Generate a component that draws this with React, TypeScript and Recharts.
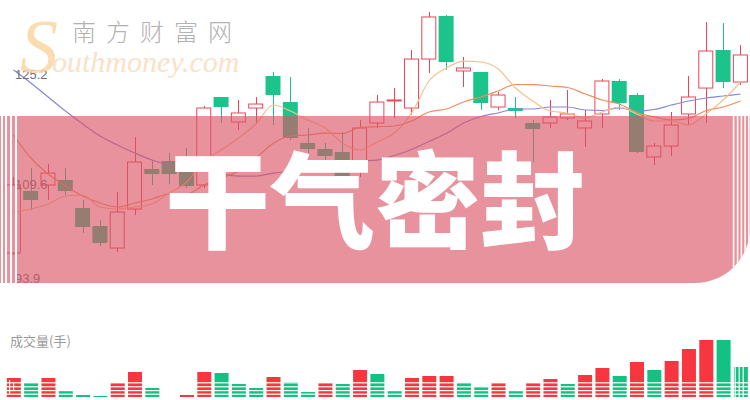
import React from 'react';
import { ComposedChart, BarChart, Bar, Line, XAxis, YAxis, Cell } from 'recharts';

const days = ['1','2','3','4','5','6','7','8','9','10','11','12','13','14','15','16','17','18','19','20','21','22','23','24','25','26','27','28','29','30','31','32','33','34','35','36','37','38','39','40','41','42','43'];

const opens = [99.81,108.53,109.38,110.08,106.14,103.61,100.51,106.0,111.63,112.75,111.91,109.38,121.76,118.24,120.21,124.71,121.05,115.29,114.44,114.02,111.2,118.1,121.2,120.21,127.1,133.16,125.42,125.28,120.35,120.21,118.1,118.1,118.8,117.4,119.37,124.01,122.04,113.32,114.86,119.37,123.02,128.37,123.87];
const closes = [109.38,107.27,111.06,108.53,103.47,101.21,105.58,112.61,110.92,110.92,109.23,120.21,120.35,119.51,120.77,122.04,115.99,114.44,113.46,110.5,117.4,121.05,121.34,127.1,133.02,126.68,125.84,120.91,122.04,119.79,117.26,118.94,119.37,118.38,124.01,120.91,114.02,114.86,117.82,121.76,128.23,123.87,127.67];
const highs = [110.5,111.77,112.33,111.77,107.27,104.45,108.39,116.13,112.89,113.88,114.58,120.49,121.76,121.34,121.76,125.28,124.57,117.4,115.29,116.83,118.52,122.04,123.02,128.37,133.72,133.3,127.39,125.28,122.46,121.76,118.52,121.34,122.74,119.93,124.29,124.29,122.32,115.29,119.65,124.71,132.31,132.17,129.08];
const lows = [99.53,105.86,107.27,107.97,102.62,100.79,99.95,105.15,109.38,109.52,108.95,108.95,118.1,117.11,118.1,117.82,115.71,113.6,112.47,110.36,110.5,117.4,118.8,119.23,125.14,125.56,123.17,119.93,119.93,118.8,112.61,117.4,118.52,114.72,117.4,119.93,113.88,112.19,113.46,117.82,118.1,123.02,123.45];

const ma5 = [105.58,106.0,106.7,107.83,107.97,106.28,106.0,106.28,106.7,108.25,109.8,112.75,114.3,115.99,117.96,120.63,119.79,118.52,117.4,115.29,114.3,115.43,116.69,119.51,124.01,125.84,126.82,126.68,125.7,123.03,121.2,119.79,119.51,118.8,119.65,120.35,119.37,118.38,118.38,117.82,119.37,121.34,123.87];
const ma10 = [116.41,113.18,110.92,109.24,107.83,106.84,106.28,106.84,107.41,108.11,108.11,109.38,110.36,111.35,113.18,115.21,116.27,116.41,116.69,116.62,117.47,117.58,117.68,118.38,119.65,120.07,121.06,121.76,122.61,123.52,123.5,123.31,123.1,122.22,121.34,120.77,119.56,118.94,118.52,118.73,119.83,120.35,121.2];
const ma20 = [125.56,123.73,121.76,119.79,117.96,116.27,115.01,113.88,112.89,112.19,111.77,111.35,110.92,110.64,110.64,111.06,111.27,111.63,112.05,112.33,112.75,112.89,113.53,114.37,115.5,116.62,118.1,119.02,119.51,120.07,120.07,120.35,120.35,119.93,119.86,120.21,119.79,120.0,120.63,121.2,121.62,121.9,122.18];

const volumes = [19,14,19,6,2,1,14,25,9,0,2,25,24,13,9,20,15,5,14,13,27,23,6,19,21,21,14,10,14,6,14,18,13,22,29,21,35,27,36,48,57,57,30];
const volumeUp = [true,false,true,false,false,false,true,true,false,false,true,true,false,false,false,true,false,false,true,false,true,false,false,true,true,true,false,false,true,false,true,true,false,true,true,false,true,false,true,true,true,false,false];

const priceTicks = [93.9, 109.6, 125.2];
const priceDomain = [93.9, 134];
const volumeDomain = [0, 60];

const RED = '#EC4656';
const GREEN = '#1CC48B';
const VRED = '#F8363F';
const VGREEN = '#12C283';

const data = days.map((d, i) => ({
  day: d,
  open: opens[i],
  close: closes[i],
  high: highs[i],
  low: lows[i],
  range: [lows[i], highs[i]],
  ma5: ma5[i],
  ma10: ma10[i],
  ma20: ma20[i],
  vol: volumes[i],
  volUp: volumeUp[i],
}));

const Candle = (props: any) => {
  const { x, y, width, height, payload } = props;
  if (x == null || y == null) return null;
  const top0 = Math.min(y, y + height);
  const h = Math.abs(height);
  const { open, close, high, low } = payload;
  const span = high - low;
  const toY = (v: number) => (span === 0 ? top0 : top0 + ((high - v) / span) * h);
  const up = close >= open;
  const color = up ? RED : GREEN;
  const bTop = toY(Math.max(open, close));
  const bBot = toY(Math.min(open, close));
  const cx = Math.round(x + width / 2) + 0.5;
  const bh = Math.max(bBot - bTop, 1);
  if (up) {
    return (
      <g>
        <line x1={cx} x2={cx} y1={top0} y2={bTop} stroke={color} strokeWidth={1} />
        <line x1={cx} x2={cx} y1={bTop + bh} y2={top0 + h} stroke={color} strokeWidth={1} />
        <rect x={x + 0.5} y={bTop} width={width - 1} height={bh} fill="none" stroke={color} strokeWidth={1} />
      </g>
    );
  }
  return (
    <g>
      <line x1={cx} x2={cx} y1={top0} y2={top0 + h} stroke={color} strokeWidth={1} />
      <rect x={x} y={bTop} width={width} height={bh} fill={color} />
    </g>
  );
};

const PriceTick = (props: any) => {
  const { y, payload } = props;
  const bottom = payload.value === priceTicks[0];
  return (
    <text x={15} y={y} dy={bottom ? -12 : 6} fontSize={13} fill="#6f6f78" textAnchor="start" fontFamily="'Liberation Sans', Arial, sans-serif">
      {payload.value}
    </text>
  );
};

const R = 55;
const bannerPath = `M0,116 H750 V${283 - R} A${R},${R} 0 0 1 ${750 - R},283 H0 Z`;

export default function App() {
  return (
    <div style={{ position: 'absolute', left: 0, top: 0, width: 750, height: 400, background: '#fff', overflow: 'hidden' }}>
      <div style={{ position: 'absolute', left: 0, top: 0 }}>
        <ComposedChart width={750} height={300} data={data} margin={{ top: 10, right: 0.8, bottom: 5, left: 4.85 }}>
          <XAxis dataKey="day" hide />
          <YAxis domain={priceDomain} ticks={priceTicks} allowDataOverflow mirror width={40} axisLine={false} tickLine={false} tick={<PriceTick />} interval={0} />
          <Bar dataKey="range" barSize={15} shape={<Candle />} isAnimationActive={false} />
          <Line dataKey="ma20" type="monotone" stroke="#8588D6" strokeWidth={1.2} dot={false} isAnimationActive={false} />
          <Line dataKey="ma10" type="monotone" stroke="#EE8E5E" strokeWidth={1.2} dot={false} isAnimationActive={false} />
          <Line dataKey="ma5" type="monotone" stroke="#F6C08C" strokeWidth={1.2} dot={false} isAnimationActive={false} />
        </ComposedChart>
      </div>
      <div style={{ position: 'absolute', left: 0, top: 330 }}>
        <BarChart width={750} height={70} data={data} margin={{ top: 7, right: 0.8, bottom: 3, left: 4.85 }}>
          <XAxis dataKey="day" hide />
          <YAxis hide domain={volumeDomain} allowDataOverflow />
          <Bar dataKey="vol" barSize={14} isAnimationActive={false}>
            {data.map((d, i) => (
              <Cell key={i} fill={d.volUp ? VRED : VGREEN} />
            ))}
          </Bar>
        </BarChart>
      </div>
      <svg width={750} height={400} style={{ position: 'absolute', left: 0, top: 0, pointerEvents: 'none' }}>
        <defs>
          <clipPath id="bannerClip">
            <path d={bannerPath} />
          </clipPath>
        </defs>
        {/* watermark */}
        <text x={20} y={72} fontSize={76} fontStyle="italic" fontFamily="'Liberation Serif', serif" fill="#FBD6A4" opacity={0.85}>S</text>
        <text x={52} y={72} fontSize={30} fontStyle="italic" fontFamily="'Liberation Serif', serif" fill="#FAE2C9">outhmoney.com</text>
        <text x={72} y={41} fontSize={24} letterSpacing={10} fill="#B2B2B2" fontFamily="'Noto Sans CJK SC', sans-serif" fontWeight={300}>南方财富网</text>
        {/* banner */}
        <path d={bannerPath} fill="rgba(218,85,100,0.64)" />
        <g clipPath="url(#bannerClip)" fill="#fff">
          {[1, 5, 10, 15].map((sx) => (
            <rect key={'l' + sx} x={sx} y={116} width={2} height={167} />
          ))}
          {[732.8, 736.8, 740.6, 744.3, 748].map((sx) => (
            <rect key={'r' + sx} x={sx} y={116} width={1.6} height={167} />
          ))}
        </g>
        <text x={375} y={240} textAnchor="middle" fontSize={105} fontWeight={900} fill="#fff" fontFamily="'Noto Sans CJK SC', sans-serif">干气密封</text>
        {/* volume label */}
        <text x={10} y={346} fontSize={13} fill="#9a9a9a" fontFamily="'Noto Sans CJK SC', sans-serif">成交量(手)</text>
        {/* volume stripes */}
        <g fill="#fff">
          {[382.2, 386.2, 390.0, 393.6].map((sy) => (
            <rect key={'h' + sy} x={0} y={sy} width={750} height={1.2} />
          ))}
          <rect x={9} y={380} width={1.2} height={14} />
          <rect x={13} y={383} width={1.2} height={8} />
          <rect x={734.6} y={360} width={1.2} height={37} />
          <rect x={738.6} y={360} width={1.2} height={37} />
          <rect x={742.6} y={360} width={1.2} height={37} />
        </g>
      </svg>
    </div>
  );
}
